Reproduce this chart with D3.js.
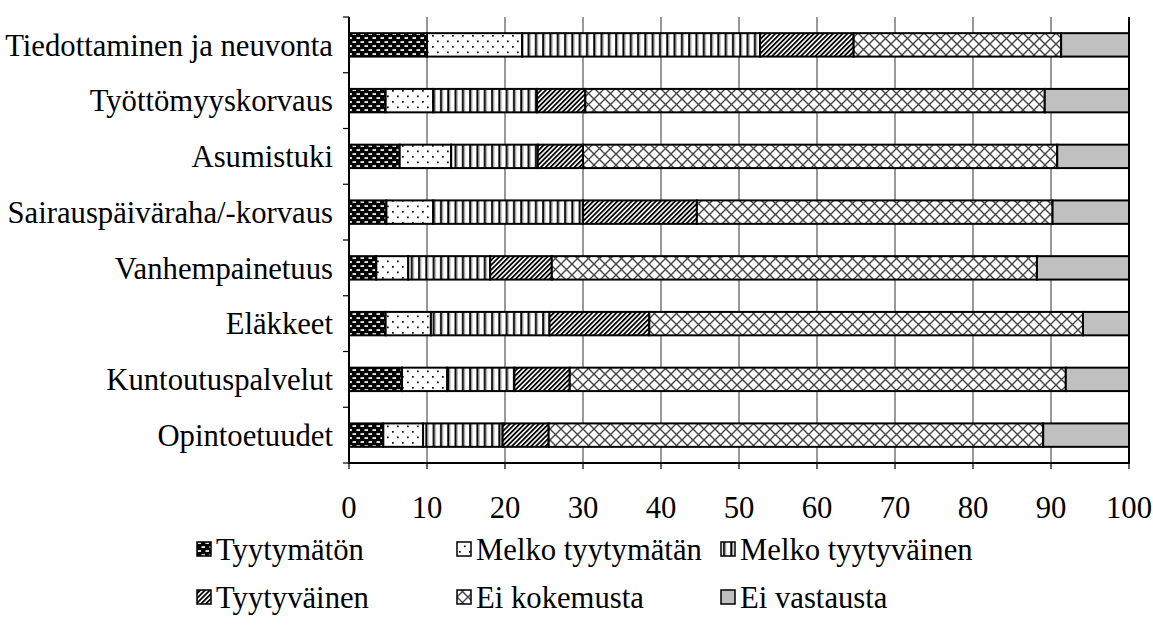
<!DOCTYPE html>
<html><head><meta charset="utf-8">
<script src="https://cdn.jsdelivr.net/npm/d3@7"></script>
<style>
body{margin:0;background:#fff;}
svg{display:block;}
text{font-family:"Liberation Serif","Times New Roman",serif;fill:#000;}
</style></head>
<body>
<svg id="chart" width="1153" height="635"></svg>
<script>
const categories = ["Tiedottaminen ja neuvonta","Työttömyyskorvaus","Asumistuki","Sairauspäiväraha/-korvaus","Vanhempainetuus","Eläkkeet","Kuntoutuspalvelut","Opintoetuudet"];
const seriesNames = ["Tyytymätön","Melko tyytymätän","Melko tyytyväinen","Tyytyväinen","Ei kokemusta","Ei vastausta"];
const tyytymaton        = [10.0, 4.7, 6.5, 4.8, 3.5, 4.7, 6.8, 4.4];
const melkoTyytymaton   = [12.2, 6.1, 6.6, 6.0, 4.1, 5.8, 5.8, 5.1];
const melkoTyytyvainen  = [30.5,13.3,11.1,19.2,10.5,15.2, 8.6,10.2];
const tyytyvainen       = [12.0, 6.2, 5.8,14.6, 7.9,12.8, 7.1, 5.9];
const eiKokemusta       = [26.6,58.9,60.8,45.6,62.2,55.6,63.6,63.4];
const eiVastausta       = [ 8.7,10.8, 9.2, 9.8,11.8, 5.9, 8.1,11.0];
const xTicks = [0,10,20,30,40,50,60,70,80,90,100];

(function(){
const seriesValues = [tyytymaton, melkoTyytymaton, melkoTyytyvainen, tyytyvainen, eiKokemusta, eiVastausta];
const keys = seriesNames;
const table = categories.map((c,i)=>{const o={cat:c}; keys.forEach((k,j)=>o[k]=seriesValues[j][i]); return o;});
const FS = 30.7;

const svg = d3.select("#chart");
const defs = svg.append("defs");

const p0 = defs.append("pattern").attr("id","pat0").attr("patternUnits","userSpaceOnUse").attr("width",8).attr("height",8);
p0.append("rect").attr("width",8).attr("height",8).attr("fill","#000");
p0.append("rect").attr("x",0.5).attr("y",1.2).attr("width",3.5).attr("height",1.7).attr("fill","#fff");
p0.append("rect").attr("x",4.5).attr("y",5.2).attr("width",3.5).attr("height",1.7).attr("fill","#fff");

const p1 = defs.append("pattern").attr("id","pat1").attr("patternUnits","userSpaceOnUse").attr("width",10).attr("height",11);
p1.append("rect").attr("width",10).attr("height",11).attr("fill","#fff");
p1.append("rect").attr("x",2).attr("y",2).attr("width",1.7).attr("height",1.7).attr("fill","#000");
p1.append("rect").attr("x",7).attr("y",7.5).attr("width",1.7).attr("height",1.7).attr("fill","#000");

const p2 = defs.append("pattern").attr("id","pat2").attr("patternUnits","userSpaceOnUse").attr("width",7.3).attr("height",10);
p2.append("rect").attr("width",7.3).attr("height",10).attr("fill","#fff");
p2.append("rect").attr("x",2).attr("y",0).attr("width",2).attr("height",10).attr("fill","#000");
p2.append("rect").attr("x",4).attr("y",0).attr("width",1).attr("height",10).attr("fill","#888");

const p3 = defs.append("pattern").attr("id","pat3").attr("patternUnits","userSpaceOnUse").attr("width",3.4).attr("height",10).attr("patternTransform","rotate(45)");
p3.append("rect").attr("width",3.4).attr("height",10).attr("fill","#fff");
p3.append("rect").attr("x",0).attr("y",0).attr("width",1.8).attr("height",10).attr("fill","#000");

const p4 = defs.append("pattern").attr("id","pat4").attr("patternUnits","userSpaceOnUse").attr("width",11).attr("height",11);
p4.append("rect").attr("width",11).attr("height",11).attr("fill","#fff");
p4.append("path").attr("d","M0,0L11,11M11,0L0,11").attr("stroke","#444").attr("stroke-width",1.4).attr("fill","none");

const fills = ["url(#pat0)","url(#pat1)","url(#pat2)","url(#pat3)","url(#pat4)","#c0c0c0"];

const L = 349, R = 1129, T = 17, B = 463;
const x = d3.scaleLinear().domain([0,100]).range([L,R]);
const y = d3.scaleBand().domain(categories).range([T,B]).paddingInner(0.58).paddingOuter(0.29);

svg.append("g").selectAll("line").data(xTicks.filter(d=>d>0)).join("line")
  .attr("x1",d=>x(d)).attr("x2",d=>x(d)).attr("y1",T).attr("y2",B)
  .attr("stroke",d=>d===100?"#000":"#555").attr("stroke-width",d=>d===100?2:1.2);

const stack = d3.stack().keys(keys)(table);
svg.append("g").selectAll("g").data(stack).join("g")
  .attr("fill",(d,i)=>fills[i])
  .selectAll("rect").data(d=>d).join("rect")
  .attr("x",d=>x(d[0])).attr("width",d=>x(d[1])-x(d[0]))
  .attr("y",d=>y(d.data.cat)).attr("height",y.bandwidth())
  .attr("stroke","#000").attr("stroke-width",2);

const step = y.step();
const yTickPos = d3.range(categories.length+1).map(i=>T+i*step);
svg.append("line").attr("x1",L).attr("x2",L).attr("y1",T).attr("y2",B).attr("stroke","#000").attr("stroke-width",2);
svg.append("g").selectAll("line").data(yTickPos).join("line")
  .attr("x1",L-6).attr("x2",L).attr("y1",d=>d).attr("y2",d=>d).attr("stroke","#000").attr("stroke-width",1.2);
svg.append("g").selectAll("text").data(categories).join("text")
  .attr("x",L-16).attr("y",d=>y(d)+y.bandwidth()/2).attr("dy","0.35em")
  .attr("text-anchor","end").attr("font-size",FS).text(d=>d);

svg.append("line").attr("x1",L-1).attr("x2",R+1).attr("y1",B).attr("y2",B).attr("stroke","#000").attr("stroke-width",2);
svg.append("g").selectAll("line").data(xTicks).join("line")
  .attr("x1",d=>x(d)).attr("x2",d=>x(d)).attr("y1",B).attr("y2",B+6).attr("stroke","#000").attr("stroke-width",1.2);
svg.append("g").selectAll("text").data(xTicks).join("text")
  .attr("x",d=>x(d)).attr("y",507).attr("dy","0.35em").attr("text-anchor","middle").attr("font-size",FS).text(d=>d);

const legX = [197,457,721], legY = [549,597];
const leg = svg.append("g").selectAll("g").data(seriesNames).join("g")
  .attr("transform",(d,i)=>`translate(${legX[i%3]},${legY[Math.floor(i/3)]})`);
leg.append("rect").attr("x",0).attr("y",-7).attr("width",14).attr("height",14)
  .attr("fill",(d,i)=>fills[i]).attr("stroke","#000").attr("stroke-width",1.5);
leg.append("text").attr("x",19).attr("y",0).attr("dy","0.35em").attr("font-size",FS).text(d=>d);
})();
</script>
</body></html>
